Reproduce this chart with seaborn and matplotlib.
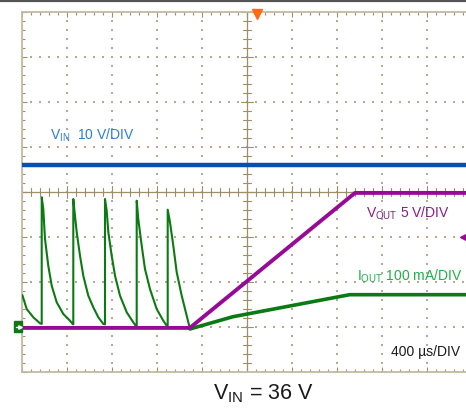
import matplotlib
matplotlib.use("Agg")
import matplotlib.pyplot as plt
import seaborn as sns
import pandas as pd
import numpy as np
from matplotlib.patches import Rectangle
from matplotlib.lines import Line2D


# Data, in screen divisions (x: 400 us/div, y: divisions from centre line)
vin_t = [0.0, 10.0]
vin_v = [0.61, 0.61]

vout_t = [0.0, 3.73, 7.40, 10.0]
vout_v = [-3.02, -3.02, -0.02, -0.02]

iout_spike_t = [0.007, 0.104, 0.251, 0.40,
                0.438, 0.438, 0.473, 0.511, 0.584, 0.66, 0.771, 0.918, 1.067, 1.127,
                1.14, 1.14, 1.162, 1.216, 1.289, 1.362, 1.473, 1.584, 1.696, 1.807,
                1.844, 1.844, 1.882, 1.918, 1.993, 2.067, 2.178, 2.327, 2.473, 2.527,
                2.549, 2.549, 2.584, 2.66, 2.733, 2.844, 2.993, 3.14, 3.216,
                3.238, 3.238, 3.289, 3.362, 3.438, 3.549, 3.66, 3.733]
iout_spike_v = [-2.289, -2.60, -2.784, -2.918,
                -2.93, -0.118, -0.378, -1.044, -1.638, -2.082, -2.451, -2.711, -2.86, -2.933,
                -2.94, -0.156, -0.378, -0.896, -1.416, -1.86, -2.304, -2.562, -2.784, -2.933,
                -2.94, -0.156, -0.416, -0.889, -1.416, -1.86, -2.304, -2.673, -2.896, -2.971,
                -2.97, -0.193, -0.60, -1.193, -1.711, -2.156, -2.60, -2.86, -2.971,
                -2.97, -0.393, -0.673, -1.193, -1.784, -2.304, -2.749, -3.044]

iout_ramp_t = [3.733, 4.689, 7.282, 10.0]
iout_ramp_v = [-3.044, -2.771, -2.282, -2.282]

vin_df = pd.DataFrame({"t": vin_t, "v": vin_v})
vout_df = pd.DataFrame({"t": vout_t, "v": vout_v})
spike_df = pd.DataFrame({"t": iout_spike_t, "v": iout_spike_v})
ramp_df = pd.DataFrame({"t": iout_ramp_t, "v": iout_ramp_v})


# Style
sns.set_style("white")
plt.rcParams["font.family"] = ["Liberation Sans", "DejaVu Sans"]

frame_col = "#c4baa2"
tick_col = "#9e8f68"
dot_col = "#b3aa92"
blue = "#0a4fae"
purple = "#960a96"
green = "#0b7a12"

fig = plt.figure(figsize=(4.66, 4.10), dpi=100, facecolor="white")
# scope screen: 10 x 8 divisions of 45 px, right edge is cut off by the figure
ax = fig.add_axes([22 / 466, 37 / 410, 450 / 466, 360 / 410])
ax.set_facecolor("white")
ax.set_xlim(0, 10)
ax.set_ylim(-4, 4)

# frame
for side in ["left", "top", "bottom"]:
    ax.spines[side].set_color(frame_col)
    ax.spines[side].set_linewidth(1.3)
ax.spines["right"].set_visible(False)

ax.set_xticks(np.arange(0, 11, 1))
ax.set_xticks(np.arange(0, 10.01, 0.2), minor=True)
ax.set_yticks(np.arange(-4, 5, 1))
ax.set_yticks(np.arange(-4, 4.01, 0.2), minor=True)
ax.tick_params(which="both", direction="in", top=True, bottom=True, left=True,
               right=False, labelbottom=False, labelleft=False, color=tick_col, width=0.8)
ax.tick_params(which="major", length=3.5)
ax.tick_params(which="minor", length=2.5)

# dotted graticule
ys = np.arange(-4, 4.01, 0.2)
xs = np.arange(0, 10.01, 0.2)
for gx in [1, 2, 3, 4, 6, 7, 8, 9]:
    ax.scatter(np.full(len(ys), gx), ys, s=0.7, marker="s", color=dot_col, lw=0, zorder=1)
for gy in [-3, -2, -1, 1, 2, 3]:
    ax.scatter(xs, np.full(len(xs), gy), s=0.7, marker="s", color=dot_col, lw=0, zorder=1)

# centre cross with ticks
ax.axvline(5, color=tick_col, lw=0.9, zorder=1)
ax.axhline(0, color=tick_col, lw=0.9, zorder=1)
for t in xs:
    h = 0.13 if abs(t - round(t)) < 1e-6 else 0.085
    ax.plot([t, t], [-h, h], color=tick_col, lw=0.8, zorder=1)
for t in ys:
    h = 0.13 if abs(t - round(t)) < 1e-6 else 0.085
    ax.plot([5 - h, 5 + h], [t, t], color=tick_col, lw=0.8, zorder=1)


# Traces
sns.lineplot(data=vin_df, x="t", y="v", sort=False, estimator=None, color=blue, lw=3.2, ax=ax, zorder=3)
sns.lineplot(data=spike_df, x="t", y="v", sort=False, estimator=None, color=green, lw=1.5, ax=ax, zorder=3)
sns.lineplot(data=ramp_df, x="t", y="v", sort=False, estimator=None, color=green, lw=2.6, ax=ax, zorder=3)
sns.lineplot(data=vout_df, x="t", y="v", sort=False, estimator=None, color=purple, lw=2.8, ax=ax, zorder=4)
ax.set_xlabel("")
ax.set_ylabel("")


# Channel markers
ax.add_patch(Rectangle((-0.18, -3.11), 0.18, 0.245, facecolor=green, edgecolor=green,
                       clip_on=False, zorder=5))
ax.plot([-0.14, -0.03], [-2.99, -2.99], color="white", lw=1.0, clip_on=False, zorder=6)
ax.plot([-0.05], [-2.99], marker=">", ms=2.5, color="white", clip_on=False, zorder=6)
ax.plot([9.80], [-0.99], marker="<", ms=5, color=purple, clip_on=False, zorder=5)
ax.plot([5.23], [3.96], marker="v", ms=7, color="#ff6a13", mec="#ff6a13", clip_on=False, zorder=5)


# Labels
ax.text(0.62, 1.29, r"V$_\mathregular{IN}$  10 V/DIV", color="#2b7fd0", fontsize=10,
        ha="left", va="center")
ax.text(7.64, -0.44, r"V$_\mathregular{OUT}$ 5 V/DIV", color="#861d86", fontsize=10,
        ha="left", va="center")
ax.text(7.44, -1.86, r"I$_\mathregular{OUT}$ 100 mA/DIV", color="#22ae48", fontsize=10,
        ha="left", va="center")
ax.text(8.19, -3.53, "400 µs/DIV", color="#1a1a1a", fontsize=10, ha="left", va="center")

fig.text(0.565, 0.027, r"V$_\mathregular{IN}$ = 36 V", fontsize=15.5, color="#1a1a1a",
         ha="center", va="baseline")

# top bar of the screenshot
fig.add_artist(Line2D([0, 1], [1 - 1.5 / 410, 1 - 1.5 / 410], color="#555555", lw=1.6))

fig.savefig("out.png", dpi=100, facecolor="white")
